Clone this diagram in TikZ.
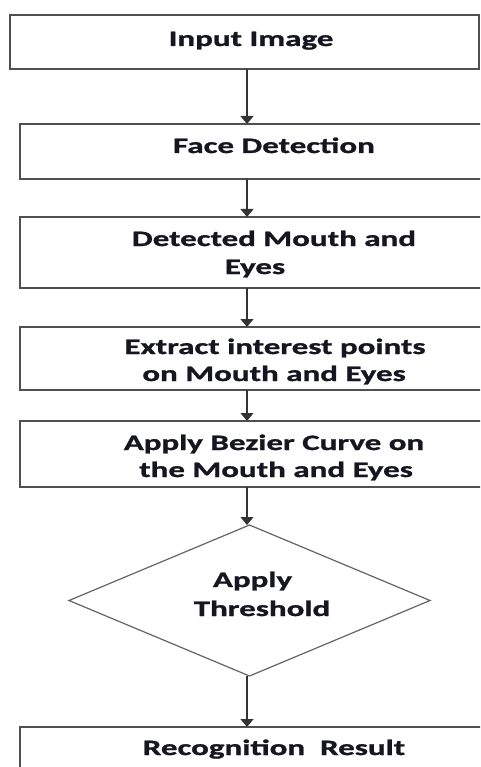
\documentclass[tikz,border=0pt]{standalone}
\usepackage{fontspec}
\setmainfont[FakeStretch=1.5,BoldFeatures={FakeBold=1.2}]{Carlito}
\usetikzlibrary{shapes.geometric,arrows.meta}
\definecolor{boxline}{RGB}{80,80,80}
\definecolor{dialine}{RGB}{100,100,100}
\definecolor{txtcol}{RGB}{22,22,32}
\tikzset{
  boxnode/.style={draw=boxline,line width=1.4pt,rectangle,inner sep=0pt,outer sep=0pt,anchor=north west},
  dianode/.style={draw=dialine,line width=1.2pt,diamond,inner sep=0pt,outer sep=0pt,minimum width=361pt,minimum height=151pt},
  lbl/.style={text=txtcol,font=\fontsize{22}{27}\selectfont\bfseries,anchor=base,inner sep=0pt},
  flow/.style={draw=black!80,line width=1.3pt,-{Triangle[width=13pt,length=8pt]}}
}
\begin{document}
\begin{tikzpicture}[x=1pt,y=-1pt]
\useasboundingbox (0,0) rectangle (480,767);
\clip (0,0) rectangle (480,767);
\node[boxnode,minimum width=469pt,minimum height=54pt] (b1) at (10,15) {};
\node[boxnode,minimum width=508pt,minimum height=55pt] (b2) at (20,124) {};
\node[boxnode,minimum width=508pt,minimum height=71pt] (b3) at (20,217) {};
\node[boxnode,minimum width=508pt,minimum height=63pt] (b4) at (20,327) {};
\node[boxnode,minimum width=508pt,minimum height=66pt] (b5) at (20,421) {};
\node[dianode] (d) at (249.5,600.5) {};
\node[boxnode,minimum width=508pt,minimum height=60pt] (b6) at (20,727) {};

\node[lbl] (t1) at (251,46) {Input Image};
\node[lbl] (t2) at (274,153) {Face Detection};
\node[lbl] (t3a) at (274,246) {Detected Mouth and};
\node[lbl] (t3b) at (255,274) {Eyes};
\node[lbl] (t4a) at (275,354) {Extract interest points};
\node[lbl] (t4b) at (274,381) {on Mouth and Eyes};
\node[lbl] (t5a) at (274,450) {Apply Bezier Curve on};
\node[lbl] (t5b) at (276,477) {the Mouth and Eyes};
\node[lbl] (t6a) at (252.5,587) {Apply};
\node[lbl] (t6b) at (262,616) {Threshold};
\node[lbl] (t7) at (274,755) {Recognition\ \ Result};

\draw[flow] (247,69) -- (b2.north -| 247,0);
\draw[flow] (b2.south -| 247,0) -- (b3.north -| 247,0);
\draw[flow] (b3.south -| 247,0) -- (b4.north -| 247,0);
\draw[flow] (b4.south -| 247,0) -- (b5.north -| 247,0);
\draw[flow] (b5.south -| 247,0) -- (d.north -| 247,0);
\draw[flow] (d.south -| 247,0) -- (b6.north -| 247,0);
\end{tikzpicture}
\end{document}
